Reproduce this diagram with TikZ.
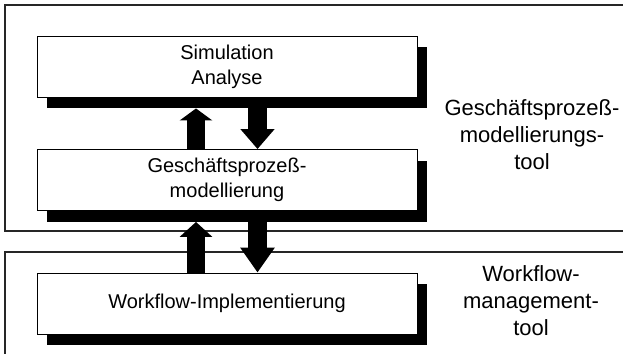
\documentclass[tikz,border=0pt]{standalone}
\usepackage{fontspec}
\setmainfont{Liberation Sans}
\usetikzlibrary{arrows.meta,shadows,calc}

\tikzset{
  frame/.style={draw=black!85, line width=1.2pt},
  stepbox/.style={draw=black, line width=0.9pt, fill=white,
    minimum width=380pt, minimum height=61pt, inner sep=0pt,
    align=center, font=\fontsize{20pt}{25pt}\selectfont,
    drop shadow={opacity=1, fill=black, shadow xshift=10pt, shadow yshift=-11pt}},
  toollabel/.style={align=center, font=\fontsize{22pt}{27pt}\selectfont, inner sep=0pt},
  flow/.style={line width=18pt, draw=black}
}

\begin{document}
\begin{tikzpicture}[x=1pt, y=-1pt]
  \useasboundingbox (0,0) rectangle (623,353);

  % tool frames, open on the right (and at the bottom for the lower one)
  \draw[frame] (625,5) -- (5,5) -- (5,231) -- (625,231);
  \draw[frame] (625,252) -- (5,252) -- (5,356);

  % the three levels
  \node[stepbox] (sim) at (227,66.5) {Simulation\\Analyse};
  \node[stepbox] (gpm) at (227,180) {Geschäftsprozeß-\\modellierung};
  \node[stepbox] (wfi) at (227,303.5) {Workflow-Implementierung};

  % tool names
  \node[toollabel] (gpmtool) at (532,135) {Geschäftsprozeß-\\modellierungs-\\tool};
  \node[toollabel] (wfmtool) at (531,301) {Workflow-\\management-\\tool};

  % arrow columns
  \coordinate (upx) at (196,0);
  \coordinate (dnx) at (257.5,0);

  % ends at the bottom of the shadows
  \coordinate (simshadow) at ($(sim.south)+(0,11)$);
  \coordinate (gpmshadow) at ($(gpm.south)+(0,11)$);

  % between analysis and modelling
  \draw[flow, -{Triangle[length=12pt,width=32pt]}]
    (gpm.north -| upx) -- (simshadow -| upx);
  \draw[flow, line width=19pt, -{Triangle[length=20pt,width=33pt]}]
    (simshadow -| dnx) -- (gpm.north -| dnx);

  % between modelling and implementation
  \draw[flow, -{Triangle[length=15pt,width=32pt]}]
    (wfi.north -| upx) -- (gpmshadow -| upx);
  \draw[flow, line width=19pt, -{Triangle[length=25pt,width=33pt]}]
    (gpmshadow -| dnx) -- (wfi.north -| dnx);
\end{tikzpicture}
\end{document}
